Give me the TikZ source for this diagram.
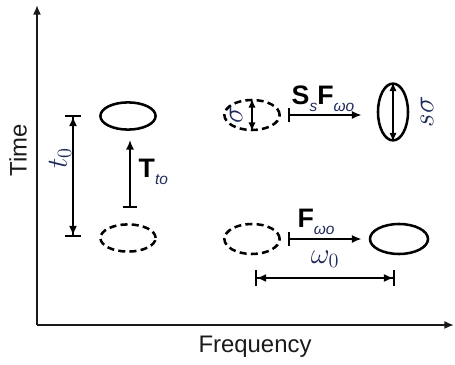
\documentclass[tikz,border=0pt]{standalone}
\usepackage{fontspec}
\setmainfont{Liberation Sans}
\usepackage{tikz}
\usetikzlibrary{arrows.meta,shapes.geometric,calc}
\definecolor{cLbl}{HTML}{1F2A5C}
\definecolor{cInk}{HTML}{1A1A1A}
\newcommand{\lowsub}[1]{\raisebox{-0.5ex}{\fontsize{11}{13}\selectfont\mdseries\itshape\color{cLbl}#1}}
\tikzset{
  blob/.style={ellipse, draw=black, line width=1.8pt, inner sep=0pt,
               minimum width=1.38cm, minimum height=0.68cm},
  ghost/.style={blob, dash pattern=on 5pt off 3pt},
  axis/.style={-{Latex[length=2.4mm,width=2mm]}, line width=1.3pt, draw=cInk},
  flow/.style={{Bar[width=3.4mm]}-{Latex[length=2.4mm,width=2mm]}, line width=1.1pt},
  span/.style={{Bar[width=3.8mm]Latex[length=2.4mm,width=2mm]}-{Latex[length=2.4mm,width=2mm]Bar[width=3.8mm]}, line width=1.1pt},
  both/.style={{Latex[length=2.2mm,width=1.8mm]}-{Latex[length=2.2mm,width=1.8mm]}, line width=1.1pt},
  lbl/.style={font=\fontsize{17}{19}\selectfont, inner sep=1pt},
  blbl/.style={font=\fontsize{19}{21}\selectfont\bfseries, inner sep=1pt},
  mlbl/.style={font=\fontsize{20}{23}\selectfont, text=cLbl, inner sep=1pt},
}

\begin{document}
\begin{tikzpicture}[x=0.025cm,y=-0.025cm]
\useasboundingbox (0,0) rectangle (455,365);
% axes
\coordinate (o) at (37,325);
\coordinate (ytop) at (37,5);
\coordinate (xend) at (454,325);
\draw[axis] (o) -- (ytop);
\draw[axis] (o) -- (xend);
\node[lbl, text=cInk, rotate=90] (tlab) at (18,150) {Time};
\node[lbl, text=cInk] (flab) at (255,347) {Frequency};

% time shift
\node[blob] (tl) at (128,116) {};
\node[ghost] (bl) at (128,238) {};
\coordinate (t0a) at (73,115);
\coordinate (t0b) at (73,237);
\draw[span] (t0b) -- (t0a);
\node[mlbl, rotate=90] (t0lab) at (60,158) {$t_0$};
\coordinate (ta) at (130,208);
\coordinate (tb) at (130,140);
\draw[flow] (ta) -- (tb);
\node[blbl, anchor=west] (Tlab) at (137,172) {T\lowsub{to}};

% scaling + frequency shift
\node[ghost, minimum height=0.75cm] (tm) at (252,115) {};
\node[blob, minimum width=0.75cm, minimum height=1.42cm] (tr) at (393,112) {};
\draw[both] (tm.north) -- (tm.south);
\draw[both] (tr.north) -- (tr.south);
\node[mlbl, rotate=90] (sig) at (236,115) {$\sigma$};
\node[mlbl, rotate=90] (ssig) at (427,112) {$s\sigma$};
\draw[flow] ([xshift=0.19cm]tm.east) -- ([xshift=-0.38cm]tm.east -| tr.west);
\node[blbl] (SFlab) at (323,99) {S\lowsub{s}F\lowsub{ωo}};

% frequency shift
\node[ghost, minimum height=0.75cm] (bm) at (252,239) {};
\node[blob, minimum width=1.45cm, minimum height=0.75cm] (br) at (399,239) {};
\draw[flow] ([xshift=0.19cm]bm.east) -- ([xshift=-0.18cm]br.west);
\node[blbl] (Flab) at (316,222) {F\lowsub{ωo}};
\coordinate (w0a) at (255,278);
\coordinate (w0b) at (395,278);
\draw[span] (w0a) -- (w0b);
\node[mlbl] (w0lab) at (325,259) {$\omega_0$};
\end{tikzpicture}
\end{document}
